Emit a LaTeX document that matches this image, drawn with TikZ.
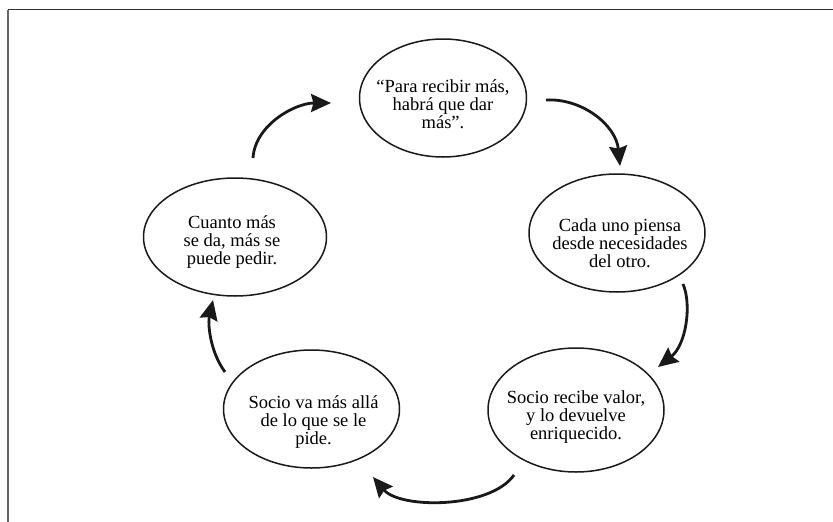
\documentclass[tikz,border=0pt]{standalone}
\usepackage{fontspec}
\setmainfont{Liberation Serif}
\usetikzlibrary{shapes.geometric,arrows.meta,calc}
\tikzset{
  bubble/.style={draw=black!90, line width=1.5pt, ellipse, inner sep=0pt,
    minimum width=176pt, minimum height=118pt},
  txt/.style={align=center, inner sep=0pt,
    font=\fontsize{18.5pt}{18pt}\selectfont, text=black},
  cyc/.style={line width=2.8pt, draw=black!90,
    -{Stealth[length=20pt, width=18pt, inset=2.5pt]}},
}
\begin{document}
\begin{tikzpicture}[x=1pt, y=-1pt]
\useasboundingbox (0,0) rectangle (833,522);
% frame (top and left edges only)
\coordinate (fTL) at (7.5,9.5);
\coordinate (fTR) at (833,9.5);
\coordinate (fBL) at (7.5,522);
\draw[line width=1.8pt, draw=black!80] (fTL) -- (fTR);
\draw[line width=2pt, draw=black!60] (fTL) -- (fBL);
% ellipses
\node[bubble, minimum width=167pt] (a) at (443,98) {};
\node[bubble] (b) at (617,233) {};
\node[bubble, minimum height=124pt] (c) at (576,410) {};
\node[bubble] (d) at (311.5,409) {};
\node[bubble, minimum width=183pt] (e) at (235,237) {};
% texts
\node[txt] (ta) at ($(a)+(0,6)$) {“Para recibir más,\\habrá que dar\\más”.};
\node[txt] (tb) at ($(b)+(3,10)$) {Cada uno piensa\\desde necesidades\\del otro.};
\node[txt] (tc) at ($(c)+(0,7)$) {Socio recibe valor,\\y lo devuelve\\enriquecido.};
\node[txt] (td) at ($(d)+(2,13)$) {Socio va más allá\\de lo que se le\\pide.};
\node[txt] (te) at ($(e)+(-3,5)$) {Cuanto más\\se da, más se\\puede pedir.};
% arrow end points
\coordinate (s1) at (546,100);  \coordinate (t1) at (620,166);
\coordinate (s2) at (683,284);  \coordinate (t2) at (658,367);
\coordinate (s3) at (514,475);  \coordinate (t3) at (373,477);
\coordinate (s4) at (225,372);  \coordinate (t4) at (213,300);
\coordinate (s5) at (253,158);  \coordinate (t5) at (331,103);
\draw[cyc] (s1) .. controls (582,98) and (616,125) .. (t1);
\draw[cyc] (s2) .. controls (692,305) and (686,345) .. (t2);
\draw[cyc] (s3) .. controls (490,509) and (400,509) .. (t3);
\draw[cyc] (s4) .. controls (209,350) and (208,322) .. (t4);
\draw[cyc] (s5) .. controls (255,125) and (295,103) .. (t5);
\end{tikzpicture}
\end{document}
